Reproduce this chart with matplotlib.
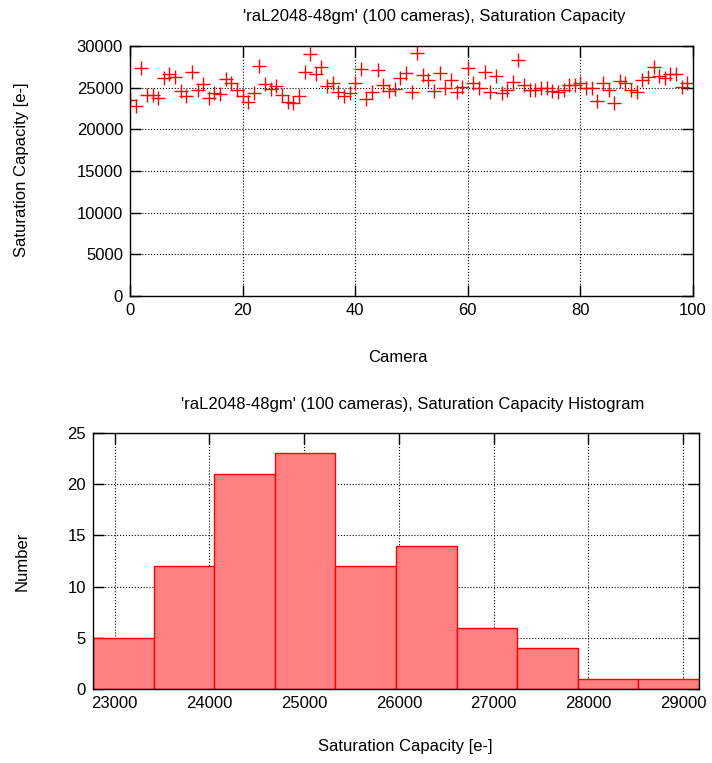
import matplotlib
matplotlib.use("Agg")
import matplotlib.pyplot as plt
import numpy as np

plt.rcParams['font.family'] = ['Liberation Sans', 'DejaVu Sans']
plt.rcParams['font.size'] = 12

# saturation capacity per camera (camera 0..99)
sat = [23520, 22770, 27320, 24120, 24120, 23800, 26120, 26600, 26240, 24600,
       24000, 26840, 24720, 25400, 23800, 24320, 24200, 26000, 25520, 24720,
       24000, 23320, 24400, 27600, 25440, 24800, 25200, 24120, 23320, 23120,
       24000, 26920, 29040, 26600, 27520, 25200, 25600, 24520, 24000, 24320,
       25520, 27200, 23600, 24520, 27120, 25320, 24640, 24800, 26120, 26720,
       24520, 29170, 26520, 25920, 24640, 26720, 24920, 25920, 24520, 25120,
       27320, 25520, 24920, 26920, 24520, 26400, 24320, 24720, 25720, 28320,
       25320, 24720, 24720, 24920, 25000, 24600, 24520, 24720, 25320, 25320,
       25520, 25000, 25000, 23440, 25520, 24720, 23200, 25840, 25600, 24720,
       24520, 25920, 26320, 27520, 26400, 26120, 26600, 26640, 25120, 25600]
cams = np.arange(len(sat))

# histogram counts (10 bins between min and max)
counts = [5, 12, 21, 23, 12, 14, 6, 4, 1, 1]
edges = np.linspace(min(sat), max(sat), len(counts) + 1)

title = "'raL2048-48gm' (100 cameras), Saturation Capacity"
W, H = 712, 763
fig = plt.figure(figsize=(W / 100, H / 100), dpi=100)


def style(ax):
    ax.grid(True, color='k', ls=':', lw=0.8)
    ax.set_axisbelow(True)
    ax.tick_params(direction='in', length=8, width=1, top=True, right=True, pad=5)
    for s in ax.spines.values():
        s.set_linewidth(1)


ax1 = fig.add_axes([130 / W, 1 - 296 / H, 563 / W, 250 / H])
ax1.plot(cams, sat, '+', color='red', ms=10, mew=1)
ax1.set_xlim(0, 100)
ax1.set_ylim(0, 30000)
ax1.set_xticks([0, 20, 40, 60, 80, 100])
ax1.set_yticks(np.arange(0, 30001, 5000))
style(ax1)
fig.text(434 / W, 1 - 17 / H, title, ha='center', va='center')
fig.text(398 / W, 1 - 357 / H, 'Camera', ha='center', va='center')
fig.text(22 / W, 1 - 170 / H, 'Saturation Capacity [e-]', rotation=90, ha='center', va='center')

ax2 = fig.add_axes([93 / W, 1 - 689 / H, 606 / W, 256 / H])
ax2.bar(edges[:-1], counts, width=np.diff(edges), align='edge',
        color='#ff8080', edgecolor='red', lw=1)
ax2.set_xlim(edges[0], edges[-1])
ax2.set_ylim(0, 25)
ax2.set_xticks(np.arange(23000, 29001, 1000))
ax2.set_yticks(np.arange(0, 26, 5))
style(ax2)
fig.text(413 / W, 1 - 404 / H, title + ' Histogram', ha='center', va='center')
fig.text(405 / W, 1 - 747 / H, 'Saturation Capacity [e-]', ha='center', va='center')
fig.text(22 / W, 1 - 561 / H, 'Number', rotation=90, ha='center', va='center')

fig.savefig('out.png', dpi=100)
